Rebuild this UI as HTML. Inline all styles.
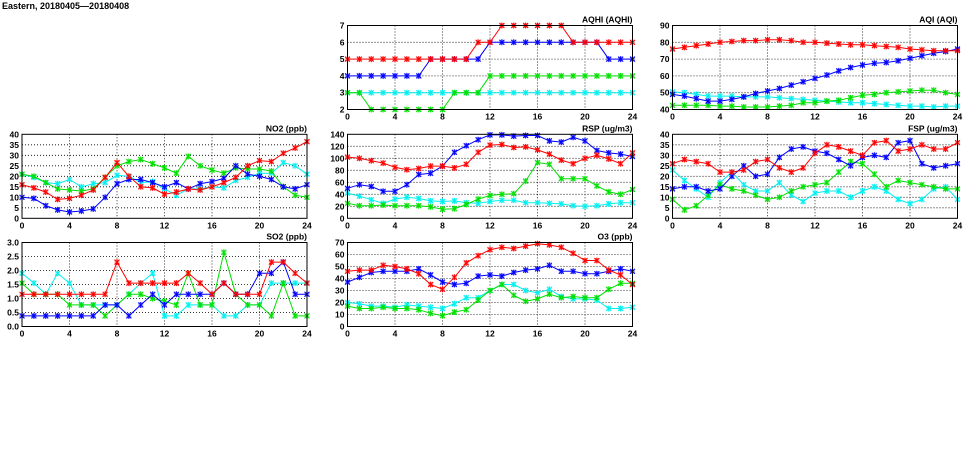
<!DOCTYPE html>
<html><head><meta charset="utf-8"><style>
body{margin:0;background:#fff;width:975px;height:447px;overflow:hidden}
svg text{font-family:"Liberation Sans",sans-serif;font-weight:bold;font-size:8.5px;fill:#000}
</style></head><body>
<svg id="s" width="975" height="447" xmlns="http://www.w3.org/2000/svg">
<text x="2" y="9" style="font-size:9px">Eastern, 20180405—20180408</text>
</svg>
<script>
const X=[22,347.5,672.5],Y=[25.5,134.3,242.5],W=285,H=84;
const C={r:"#ff0000",b:"#0000ff",g:"#00e000",c:"#00f0f0"};
function rep(v,n){return Array(n).fill(v)}
const P=[
{t:"AQHI (AQHI)",c:1,r:0,min:2,max:7,step:1,lab:v=>v,d:{
c:rep(3,25),
g:[3,3,2,2,2,2,2,2,2,3,3,3,4,4,4,4,4,4,4,4,4,4,4,4,4],
b:[4,4,4,4,4,4,4,5,5,5,5,5,6,6,6,6,6,6,6,6,6,6,5,5,5],
r:[5,5,5,5,5,5,5,5,5,5,5,6,6,7,7,7,7,7,7,6,6,6,6,6,6]}},
{t:"AQI (AQI)",c:2,r:0,min:40,max:90,step:10,lab:v=>v,d:{
c:[50.5,50,49,48,48,48,47.5,47.5,47.5,47,46.5,46,45.5,45,44.5,44,44,43.5,43,42.5,42,42,41.5,42,42],
g:[42.5,42.5,42.5,42.5,42,42,41.5,41.5,41.5,42,42.5,44,44,45,45.5,47,48.5,49,50,50.5,51,51.5,51.5,50,49],
b:[49,48,46.5,45,45,46,47.5,49.5,51,52.5,54.5,56.5,58.5,60.5,63,65,66.5,67.5,68,69,70.5,72,73.5,74.5,76],
r:[76,77,78,79,80,80.5,81,81,81.5,81.5,81,80,80,79.5,79,78.5,78.5,78,77.5,77,76,75.5,75,75,75]}},
{t:"NO2 (ppb)",c:0,r:1,min:0,max:40,step:5,lab:v=>v,d:{
c:[21,19.5,17,16.5,18.5,15,16.5,17,20.5,20,17,17.5,14,11,14,14,15,14.5,18,19.5,21.5,21.5,26.5,25,21],
g:[21,20,17,14,13.5,13,14,19.5,25,27,28,26,24,21.5,29.5,25,23,21.5,24,23.5,23.5,22.5,15,11,10],
b:[10,9.5,6,4,3,3.5,4.5,10,16.5,18.5,18.5,17,15,17,14,16.5,17.5,19,25,21,20,18.5,15,14,16],
r:[16,14.5,12.5,9,9.5,11,13.5,19.5,26.5,20,15,14.5,11.5,12.5,14,13.5,15,17,19.5,25,27.5,27,31,33.5,36.5]}},
{t:"RSP (ug/m3)",c:1,r:1,min:0,max:140,step:20,lab:v=>v,d:{
c:[42,37,31,25,32,35,33,29,28,29,26,25,28,30,30,26,26,25,24,21,20,21,24,26,26],
g:[25,21,21,22,21,21,21,19,15,16,23,32,38,40,41,62,93,90,66,66,66,54,44,40,48],
b:[50,56,53,45,45,56,73,75,87,110,121,131,139,139,137,138,138,129,127,135,129,113,109,107,103],
r:[102,100,96,92,85,81,83,87,87,84,90,110,122,123,118,119,114,107,97,91,100,105,99,91,109]}},
{t:"FSP (ug/m3)",c:2,r:1,min:0,max:40,step:5,lab:v=>v,d:{
c:[23,18,14,10,17,22,16,13,13,17,11,8,12,13,13,10,13,15,13,9,7,9,14,15,9],
g:[9,4,6,11,16,14,13,11,9,10,13,15,16,17,22,27,26,21,15,18,17,16,15,14,14],
b:[14,15,15,13,14,20,25,20,21,29,33,34,32,31,28,25,29,30,29,36,37,26,24,25,26],
r:[26,28,27,26,22,22,23,27,28,24,22,24,31,35,34,32,30,36,37,32,33,35,33,33,36]}},
{t:"SO2 (ppb)",c:0,r:2,min:0,max:3,step:0.5,lab:v=>v.toFixed(1),d:{
c:[1.9,1.55,1.15,1.9,1.55,0.77,0.77,0.77,0.77,1.15,1.55,1.9,0.38,0.38,0.77,0.77,0.77,0.38,0.38,0.77,0.77,1.55,1.55,1.55,1.55],
g:[1.55,1.15,1.15,1.15,0.77,0.77,0.77,0.38,0.77,1.15,1.15,1.0,0.9,0.77,1.9,0.77,0.77,2.65,1.15,0.77,0.77,0.38,1.55,0.38,0.38],
b:[0.38,0.38,0.38,0.38,0.38,0.38,0.38,0.77,0.77,0.38,0.77,1.15,0.77,1.15,1.15,1.15,1.15,1.55,1.15,1.15,1.9,1.9,2.3,1.15,1.15],
r:[1.15,1.15,1.15,1.15,1.15,1.15,1.15,1.15,2.3,1.55,1.55,1.55,1.55,1.55,1.9,1.55,1.15,1.55,1.15,1.15,1.15,2.3,2.3,1.9,1.55]}},
{t:"O3 (ppb)",c:1,r:2,min:0,max:70,step:10,lab:v=>v,d:{
c:[20,19,17,17,16,18,17,16,15,19,24,24,30,35,35,30,28,31,25,23,23,22,15,15,16],
g:[17,15,15,16,15,15,14,11,9,12,14,22,30,35,26,21,23,27,24,25,24,24,31,36,36],
b:[37,41,45,46,46,46,48,43,37,35,36,42,43,42,45,47,48,51,46,46,44,44,46,48,46],
r:[46,47,47,51,50,48,44,35,31,41,53,59,64,66,65,67,69,68,66,61,55,55,47,43,35]}}
];
let o="";
for(const p of P){
 const x0=X[p.c],y0=Y[p.r];
 const sx=i=>x0+i*W/24, sy=v=>y0+H-(v-p.min)/(p.max-p.min)*H;
 o+=`<text x="${x0+W}" y="${y0-3}" text-anchor="end">${p.t}</text>`;
 for(let v=p.min;v<=p.max+1e-9;v+=p.step){
  const y=sy(v);
  if(v>p.min&&v<p.max-1e-9)o+=`<line x1="${x0}" x2="${x0+W}" y1="${y}" y2="${y}" stroke="#000" stroke-width="0.8" stroke-dasharray="1,2"/>`;
  o+=`<text x="${x0-3}" y="${y+3}" text-anchor="end">${p.lab(Math.round(v*10)/10)}</text>`;
 }
 for(let i=0;i<=24;i+=4){
  const x=sx(i);
  if(i>0&&i<24)o+=`<line x1="${x}" x2="${x}" y1="${y0}" y2="${y0+H}" stroke="#000" stroke-width="0.8" stroke-dasharray="1,2"/>`;
  o+=`<text x="${x}" y="${y0+H+10}" text-anchor="middle">${i}</text>`;
 }
 for(const k of ["c","g","b","r"]){
  const a=p.d[k];
  o+=`<polyline fill="none" stroke="${C[k]}" stroke-width="1" points="${a.map((v,i)=>sx(i).toFixed(1)+","+sy(v).toFixed(1)).join(" ")}"/>`;
  for(let i=0;i<a.length;i++){const x=sx(i),y=sy(a[i]);
   o+=`<rect x="${x-2.5}" y="${y-2.5}" width="5" height="5" fill="${C[k]}" opacity="0.35"/><path d="M${x-2.5} ${y-2.5}L${x+2.5} ${y+2.5}M${x-2.5} ${y+2.5}L${x+2.5} ${y-2.5}M${x} ${y-3}V${y+3}" stroke="${C[k]}" stroke-width="1"/>`;}
 }
 o+=`<rect x="${x0}" y="${y0}" width="${W}" height="${H}" fill="none" stroke="#000" stroke-width="1"/>`;
}
document.getElementById("s").insertAdjacentHTML("beforeend",o);
</script>
</body></html>
